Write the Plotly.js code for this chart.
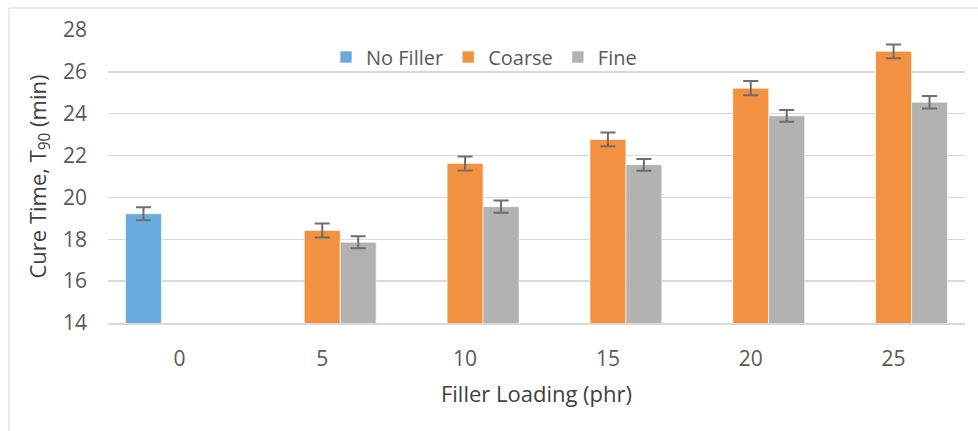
<!DOCTYPE html>
<html>
<head>
<meta charset="utf-8">
<script src="https://cdn.plot.ly/plotly-3.0.1.min.js"></script>
<style>html,body{margin:0;padding:0;background:#fff;}#chart{width:978px;height:431px;}</style>
</head>
<body>
<div id="chart"></div>
<script>
const categories = ['0', '5', '10', '15', '20', '25'];
const noFiller = [19.22, null, null, null, null, null];
const noFillerErr = [0.31, 0, 0, 0, 0, 0];
const coarse = [null, 18.42, 21.62, 22.77, 25.22, 26.98];
const coarseErr = [0, 0.34, 0.33, 0.33, 0.34, 0.33];
const fine = [null, 17.86, 19.56, 21.56, 23.9, 24.55];
const fineErr = [0, 0.29, 0.29, 0.28, 0.28, 0.3];
const seriesNames = ['No Filler', 'Coarse', 'Fine'];
const colors = ['#6AAADC', '#F29240', '#B2B2B2'];

function trace(name, y, err, color) {
  return {
    type: 'bar', name: name, x: categories, y: y,
    marker: {color: color, line: {color: 'rgba(255,255,255,0.6)', width: 1}},
    error_y: {type: 'data', array: err, visible: true, color: '#6e6e6e', thickness: 2, width: 7.5}
  };
}

const data = [
  trace(seriesNames[0], noFiller, noFillerErr, colors[0]),
  trace(seriesNames[1], coarse, coarseErr, colors[1]),
  trace(seriesNames[2], fine, fineErr, colors[2])
];

const ml = 108, mr = 13, mt = 30, mb = 108;
const pw = 978 - ml - mr, ph = 431 - mt - mb;

const layout = {
  width: 978, height: 431,
  margin: {l: ml, r: mr, t: mt, b: mb, pad: 0},
  paper_bgcolor: '#ffffff', plot_bgcolor: '#ffffff',
  font: {family: '"Open Sans", sans-serif', color: '#595959', size: 20},
  barmode: 'group', bargap: 0.245, bargroupgap: 0,
  showlegend: true,
  legend: {orientation: 'h', x: (484 - ml) / pw, xanchor: 'center', y: (431 - mb - 57) / ph, yanchor: 'middle',
           font: {size: 20, color: '#595959'}, bgcolor: 'rgba(0,0,0,0)', itemwidth: 30, tracegroupgap: 0},
  xaxis: {
    type: 'category', categoryorder: 'array', categoryarray: categories,
    showgrid: false, zeroline: false, showline: true, linecolor: '#d9d9d9', linewidth: 1.5, ticks: '',
    ticklabelstandoff: 16,
    tickfont: {size: 21, color: '#595959'},
    title: {text: 'Filler Loading (phr)', font: {size: 22, color: '#404040'}, standoff: 16}
  },
  yaxis: {
    range: [14, 28], tickvals: [14, 16, 18, 20, 22, 24, 26, 28],
    showgrid: true, gridcolor: '#d9d9d9', gridwidth: 1.5,
    zeroline: false,
    showline: false, ticks: '', ticklabelstandoff: 20,
    tickfont: {size: 21, color: '#595959'},
    title: {text: 'Cure Time, T<sub>90</sub> (min)', font: {size: 22, color: '#404040'}, standoff: 10}
  },
  shapes: [{
    type: 'rect', xref: 'paper', yref: 'paper', layer: 'below',
    x0: (9 - ml) / pw, x1: (1000 - ml) / pw,
    y0: (431 - mb - 460) / ph, y1: (431 - mb - 8) / ph,
    line: {color: '#d9d9d9', width: 1}, fillcolor: 'rgba(0,0,0,0)'
  }]
};

Plotly.newPlot('chart', data, layout, {displayModeBar: false, staticPlot: true});
</script>
</body>
</html>
